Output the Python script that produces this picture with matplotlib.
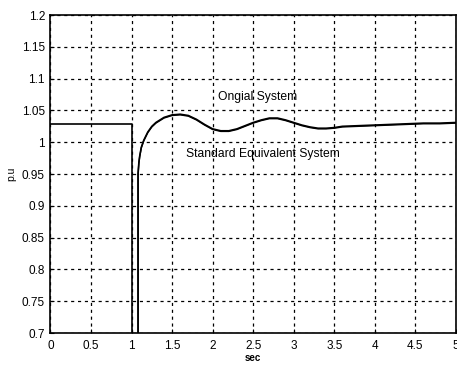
import matplotlib
matplotlib.use("Agg")
from matplotlib import pyplot as plt

plt.rcParams['font.family'] = ['Liberation Sans', 'DejaVu Sans']

# --- datos ---
# antes de la falta (comun a los dos sistemas)
t_pre = [0.0, 1.0, 1.0]
v_pre = [1.028, 1.028, 0.70]

# despues de la falta: sistema original
t_orig = [1.08, 1.08, 1.09, 1.10, 1.12, 1.15, 1.20, 1.25, 1.30, 1.40, 1.50, 1.60,
          1.70, 1.80, 1.90, 2.00, 2.10, 2.20, 2.30, 2.40, 2.50, 2.60, 2.70, 2.80,
          2.90, 3.00, 3.10, 3.20, 3.30, 3.40, 3.50, 3.60, 3.80, 4.00, 4.20, 4.40,
          4.60, 4.80, 5.00]
v_orig = [0.700, 0.950, 0.968, 0.978, 0.992, 1.003, 1.016, 1.025, 1.031, 1.039, 1.043, 1.044,
          1.042, 1.036, 1.028, 1.021, 1.018, 1.018, 1.021, 1.026, 1.031, 1.035, 1.038, 1.038,
          1.035, 1.031, 1.027, 1.024, 1.022, 1.022, 1.023, 1.025, 1.026, 1.027, 1.028, 1.029,
          1.030, 1.030, 1.031]

# sistema equivalente estandar (practicamente superpuesto)
t_equiv = t_orig
v_equiv = [0.700, 0.950, 0.967, 0.977, 0.991, 1.002, 1.015, 1.024, 1.030, 1.038, 1.042, 1.043,
           1.041, 1.035, 1.027, 1.020, 1.017, 1.017, 1.020, 1.025, 1.030, 1.034, 1.037, 1.037,
           1.034, 1.030, 1.026, 1.023, 1.021, 1.021, 1.022, 1.024, 1.025, 1.026, 1.027, 1.028,
           1.029, 1.029, 1.030]

xticks = [0, 0.5, 1, 1.5, 2, 2.5, 3, 3.5, 4, 4.5, 5]
xlabels = ['0', '0.5', '1', '1.5', '2', '2.5', '3', '3.5', '4', '4.5', '5']
yticks = [0.7, 0.75, 0.8, 0.85, 0.9, 0.95, 1.0, 1.05, 1.1, 1.15, 1.2]
ylabels = ['0.7', '0.75', '0.8', '0.85', '0.9', '0.95', '1', '1.05', '1.1', '1.15', '1.2']

fig = plt.figure(figsize=(4.57, 3.66), dpi=100)
ax = fig.add_axes([0.1105, 0.090, 0.887, 0.869])

ax.plot(t_pre, v_pre, color='black', linewidth=1.2)
ax.plot(t_orig, v_orig, color='black', linewidth=1.2)
ax.plot(t_equiv, v_equiv, color='black', linewidth=1.0)

ax.set_xlim(0, 5)
ax.set_ylim(0.7, 1.2)
ax.set_xticks(xticks)
ax.set_xticklabels(xlabels)
ax.set_yticks(yticks)
ax.set_yticklabels(ylabels)
ax.tick_params(direction='in', length=3, labelsize=8.5, colors='black')
ax.tick_params(axis='x', pad=5)
ax.tick_params(axis='y', pad=4)
ax.grid(True, color='black', linestyle=(0, (2.5, 3)), linewidth=0.9)
for s in ax.spines.values():
    s.set_linewidth(1.2)

ax.text(2.07, 1.071, 'Ongial System', fontsize=8.7, va='center')
ax.text(1.67, 0.981, 'Standard Equivalent System', fontsize=8.7, va='center')

ax.set_xlabel('sec', fontsize=7, fontweight='bold', labelpad=1)
ax.set_ylabel('p.u', fontsize=7.5, labelpad=4)

fig.savefig('out.png', dpi=100)
